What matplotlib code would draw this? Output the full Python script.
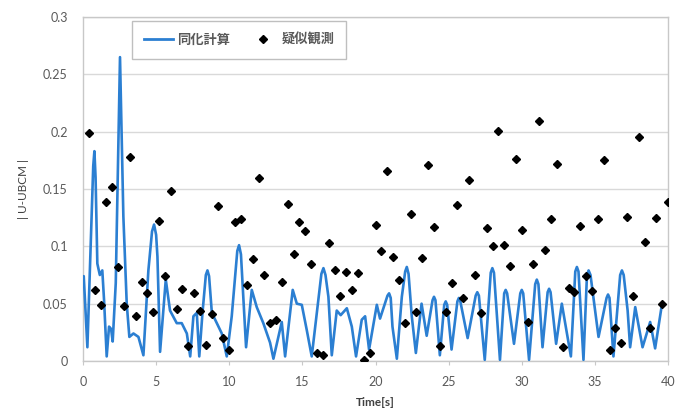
import matplotlib
matplotlib.use("Agg")
import matplotlib.pyplot as plt
from matplotlib.lines import Line2D

# ---- data ----
calc_time = [0.05, 0.3, 0.78, 0.98, 1.15, 1.32, 1.44, 1.62, 1.78, 1.92, 2.03, 2.24, 2.53, 2.76, 2.99,
             3.17, 3.45, 3.79, 4.13, 4.47, 4.86, 5.09, 5.27, 5.66, 5.95, 6.41, 6.75, 7.1, 7.33, 7.55,
             7.78, 7.95, 8.17, 8.51, 8.81, 9.15, 9.49, 9.83, 10.17, 10.67, 10.97, 11.15, 11.54, 11.88,
             12.33, 12.79, 13.02, 13.59, 13.82, 14.34, 14.62, 14.96, 15.3, 15.64, 16.44, 16.78, 17.01,
             17.35, 17.62, 18.04, 18.38, 18.67, 19.06, 19.29, 19.56, 20.09, 20.31, 20.93, 21.16, 21.46,
             21.8, 22.14, 22.48, 22.76, 23.15, 23.5, 24.0, 24.4, 24.8, 25.2, 25.7, 26.3, 26.96, 27.47,
             27.99, 28.51, 28.9, 29.47, 30.0, 30.5, 31.03, 31.42, 31.87, 32.35, 32.74, 33.36, 33.77,
             34.22, 34.57, 35.25, 35.9, 36.27, 36.85, 37.24, 37.41, 37.76, 38.26, 38.78, 39.12, 39.58]
calc_value = [0.074, 0.012, 0.183, 0.085, 0.075, 0.079, 0.053, 0.004, 0.030, 0.028, 0.017, 0.068, 0.265,
              0.126, 0.050, 0.021, 0.024, 0.021, 0.005, 0.079, 0.119, 0.091, 0.008, 0.071, 0.044, 0.033,
              0.033, 0.024, 0.004, 0.039, 0.042, 0.004, 0.042, 0.079, 0.042, 0.033, 0.024, 0.004, 0.039,
              0.101, 0.053, 0.012, 0.062, 0.047, 0.033, 0.016, 0.002, 0.034, 0.004, 0.062, 0.050, 0.049,
              0.027, 0.004, 0.081, 0.056, 0.005, 0.044, 0.040, 0.046, 0.030, 0.004, 0.036, 0.039, 0.010,
              0.049, 0.037, 0.059, 0.030, 0.002, 0.056, 0.082, 0.039, 0.007, 0.050, 0.022, 0.056, 0.005,
              0.052, 0.010, 0.055, 0.020, 0.060, 0.001, 0.081, 0.001, 0.062, 0.015, 0.062, 0.001, 0.071,
              0.012, 0.063, 0.015, 0.050, 0.004, 0.082, 0.001, 0.079, 0.021, 0.058, 0.004, 0.079, 0.044,
              0.012, 0.047, 0.012, 0.034, 0.011, 0.049]
# extra points read along the rounded crests of the computed curve
crest_time = [0.7, 0.86, 4.72, 5.0, 8.4, 8.62, 10.55, 10.8, 16.3, 16.58, 22.03, 22.26, 27.88, 28.1,
              30.92, 31.14, 33.66, 33.88, 34.46, 34.7, 36.73, 36.97, 20.82, 21.04, 26.85, 27.07,
              28.8, 29.0, 29.9, 30.1, 31.77, 31.97, 35.8, 36.0, 24.7, 24.9, 25.6, 25.8, 23.9, 24.1]
crest_value = [0.170, 0.160, 0.113, 0.110, 0.075, 0.074, 0.096, 0.093, 0.076, 0.075, 0.078, 0.076,
               0.077, 0.077, 0.067, 0.067, 0.078, 0.078, 0.075, 0.075, 0.075, 0.075, 0.057, 0.055,
               0.057, 0.057, 0.059, 0.059, 0.059, 0.059, 0.060, 0.060, 0.055, 0.055, 0.049, 0.049,
               0.052, 0.052, 0.053, 0.053]

obs_time = [0.4, 0.8, 1.2, 1.6, 2.0, 2.4, 2.8, 3.2, 3.6, 4.0, 4.4, 4.8, 5.2, 5.6, 6.0, 6.4, 6.8, 7.2,
            7.6, 8.0, 8.4, 8.8, 9.2, 9.6, 10.0, 10.4, 10.8, 11.2, 11.6, 12.0, 12.4, 12.8, 13.2, 13.6,
            14.0, 14.4, 14.8, 15.2, 15.6, 16.0, 16.4, 16.8, 17.2, 17.6, 18.0, 18.4, 18.8, 19.2, 19.6,
            20.0, 20.4, 20.8, 21.2, 21.6, 22.0, 22.4, 22.8, 23.2, 23.6, 24.0, 24.4, 24.8, 25.2, 25.6,
            26.0, 26.4, 26.8, 27.2, 27.6, 28.0, 28.4, 28.8, 29.2, 29.6, 30.0, 30.4, 30.8, 31.2, 31.6,
            32.0, 32.4, 32.8, 33.2, 33.6, 34.0, 34.4, 34.8, 35.2, 35.6, 36.0, 36.4, 36.8, 37.2, 37.6,
            38.0, 38.4, 38.8, 39.2, 39.6, 40.0]
obs_value = [0.199, 0.062, 0.049, 0.139, 0.152, 0.082, 0.048, 0.178, 0.039, 0.069, 0.059, 0.043, 0.122,
             0.074, 0.148, 0.045, 0.063, 0.013, 0.059, 0.044, 0.014, 0.041, 0.135, 0.020, 0.010, 0.121,
             0.124, 0.066, 0.089, 0.160, 0.075, 0.033, 0.036, 0.069, 0.137, 0.093, 0.121, 0.113, 0.085,
             0.007, 0.005, 0.103, 0.079, 0.057, 0.078, 0.062, 0.077, 0.001, 0.007, 0.119, 0.096, 0.166,
             0.091, 0.071, 0.033, 0.128, 0.043, 0.090, 0.171, 0.117, 0.013, 0.043, 0.068, 0.136, 0.055,
             0.158, 0.075, 0.042, 0.116, 0.100, 0.201, 0.101, 0.083, 0.176, 0.114, 0.034, 0.085, 0.209,
             0.097, 0.124, 0.172, 0.012, 0.064, 0.060, 0.118, 0.074, 0.061, 0.124, 0.175, 0.010, 0.029,
             0.016, 0.126, 0.057, 0.195, 0.104, 0.029, 0.125, 0.050, 0.139]

x_ticks = [0, 5, 10, 15, 20, 25, 30, 35, 40]
y_ticks = [0, 0.05, 0.1, 0.15, 0.2, 0.25, 0.3]
y_tick_labels = ["0", "0.05", "0.1", "0.15", "0.2", "0.25", "0.3"]
series_names = ["同化計算", "疑似観測"]

# ---- style ----
plt.rcParams['font.family'] = ['Lato', 'Noto Sans CJK JP', 'DejaVu Sans']
line_color = '#2b7fd2'
grid_color = '#d9d9d9'
text_color = '#595959'

fig = plt.figure(figsize=(6.81, 4.12), dpi=100)
ax = fig.add_axes([83 / 681, 1 - 361 / 412, 585 / 681, 344 / 412])

pts = sorted(zip(calc_time + crest_time, calc_value + crest_value))
ax.plot([p[0] for p in pts], [p[1] for p in pts], color=line_color, lw=1.9,
        solid_joinstyle='round', solid_capstyle='round', zorder=3)
ax.plot(obs_time, obs_value, linestyle='none', marker='D', ms=4.2, color='black', zorder=4)

ax.set_xlim(0, 40)
ax.set_ylim(0, 0.3)
ax.set_xticks(x_ticks)
ax.set_yticks(y_ticks)
ax.set_yticklabels(y_tick_labels)
ax.yaxis.grid(True, color=grid_color, lw=1.0)
ax.set_axisbelow(True)
for s in ax.spines.values():
    s.set_color('#c8c8c8')
    s.set_linewidth(1.0)
ax.tick_params(axis='y', length=0, pad=11, labelsize=9, labelcolor=text_color)
ax.tick_params(axis='x', length=3, color='#c8c8c8', pad=8, labelsize=9, labelcolor=text_color)

ax.set_xlabel("Time[s]", fontsize=8.5, color='#404040', fontweight='bold', labelpad=6)
ax.set_ylabel("| U-UBCM |", fontsize=8.5, color='#404040', labelpad=10)

handles = [Line2D([], [], color=line_color, lw=2),
           Line2D([], [], linestyle='none', marker='D', ms=4.2, color='black')]
leg = ax.legend(handles, series_names, loc='upper left', bbox_to_anchor=(0.084, 0.988), ncol=2,
                frameon=True, fancybox=False, edgecolor='#bfbfbf', framealpha=1,
                prop={'family': ['Noto Sans CJK JP'], 'size': 9.5, 'weight': 'bold'},
                handlelength=2.2, handletextpad=0.3, columnspacing=1.4,
                borderpad=0.9, borderaxespad=0)
for t in leg.get_texts():
    t.set_color(text_color)

fig.savefig("out.png", dpi=100)
